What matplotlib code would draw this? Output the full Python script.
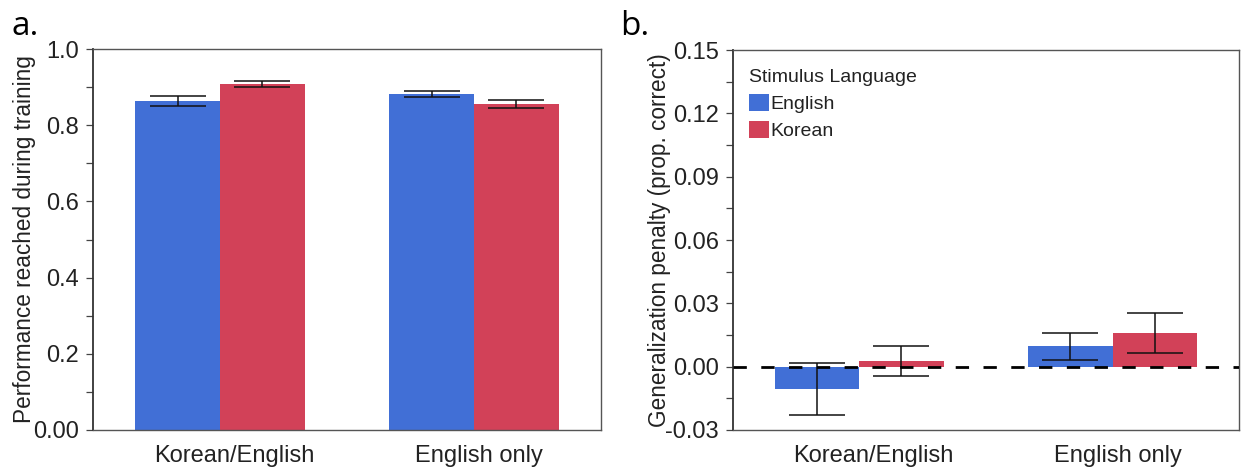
import numpy as np
import matplotlib
matplotlib.use('Agg')
import matplotlib.pyplot as plt
from matplotlib.ticker import MultipleLocator, FixedLocator, FormatStrFormatter
from matplotlib.transforms import ScaledTranslation

plt.rcParams['font.family'] = ['Liberation Sans', 'DejaVu Sans']

groups = ['Korean/English', 'English only']
languages = ['English', 'Korean']
colors = ['#416FD6', '#D24158']

# performance reached during training (mean, error) per group, per stimulus language
train_mean = {'English': [0.864, 0.882], 'Korean': [0.908, 0.856]}
train_err = {'English': [0.014, 0.008], 'Korean': [0.007, 0.010]}

# generalization penalty (prop. correct)
pen_mean = {'English': [-0.0107, 0.0097], 'Korean': [0.0027, 0.0159]}
pen_err = {'English': [0.0124, 0.0064], 'Korean': [0.0070, 0.0094]}

fig = plt.figure(figsize=(12.48, 4.72), dpi=100)
ax1 = fig.add_axes([0.0745, 0.089, 0.407, 0.807])
ax2 = fig.add_axes([0.587, 0.089, 0.406, 0.805])

x = np.arange(len(groups))
w = 1 / 3
txt = '#222222'
label_shift = [0.14, 0.05]  # inches, nudges the group labels to the right


def bars(ax, means, errs):
    for i, lang in enumerate(languages):
        pos = x + (i - 0.5) * w
        ax.bar(pos, means[lang], width=w, color=colors[i], label=lang, zorder=1)
        ax.errorbar(pos, means[lang], yerr=errs[lang], fmt='none', ecolor='#111111',
                    elinewidth=1.1, capsize=20.5, capthick=1.1, zorder=3)
    ax.set_xlim(-0.5, 1.5)
    ax.set_xticks(x)
    ax.set_xticklabels(groups)
    ax.tick_params(axis='x', length=0, pad=11, labelsize=17, labelcolor=txt)
    ax.tick_params(axis='y', which='both', direction='out', length=5, width=0.9,
                   color='#444444', labelsize=17, labelcolor=txt, pad=5)
    for lab, dx in zip(ax.get_xticklabels(), label_shift):
        lab.set_transform(lab.get_transform() + ScaledTranslation(dx, 0, fig.dpi_scale_trans))
    for s in ax.spines.values():
        s.set_color('#555555')
        s.set_linewidth(1.0)
    ax.spines['left'].set_color('#333333')
    ax.spines['left'].set_linewidth(1.3)


bars(ax1, train_mean, train_err)
ax1.set_ylim(0, 1.0)
ax1.yaxis.set_major_locator(FixedLocator([0, 0.2, 0.4, 0.6, 0.8, 1.0]))
ax1.set_yticklabels(['0.00', '0.2', '0.4', '0.6', '0.8', '1.0'])
ax1.yaxis.set_minor_locator(MultipleLocator(0.1))
ax1.set_ylabel('Performance reached during training', fontsize=16.3, color=txt)
ax1.yaxis.set_label_coords(-0.112, 0.5)

bars(ax2, pen_mean, pen_err)
ax2.set_ylim(-0.03, 0.15)
ax2.yaxis.set_major_locator(MultipleLocator(0.03))
ax2.yaxis.set_minor_locator(MultipleLocator(0.015))
ax2.yaxis.set_major_formatter(FormatStrFormatter('%.2f'))
ax2.axhline(0, color='black', lw=2.0, linestyle=(0, (4.8, 5.2)), zorder=4)
ax2.set_ylabel('Generalization penalty (prop. correct)', fontsize=16.3, color=txt)
ax2.yaxis.set_label_coords(-0.121, 0.5)

leg = ax2.legend(title='Stimulus Language', loc='upper left', frameon=False,
                 fontsize=14, title_fontsize=14, handlelength=1.0, handleheight=1.0,
                 handletextpad=0.1, labelspacing=0.4, borderaxespad=0.0,
                 bbox_to_anchor=(0.018, 0.971))
leg._legend_box.align = 'left'
for t in leg.get_texts():
    t.set_color(txt)
leg.get_title().set_color(txt)

fig.text(0.009, 0.925, 'a.', fontsize=24, color='black', family=['Open Sans', 'DejaVu Sans'])
fig.text(0.497, 0.925, 'b.', fontsize=24, color='black', family=['Open Sans', 'DejaVu Sans'])

fig.savefig('out.png', dpi=100)
